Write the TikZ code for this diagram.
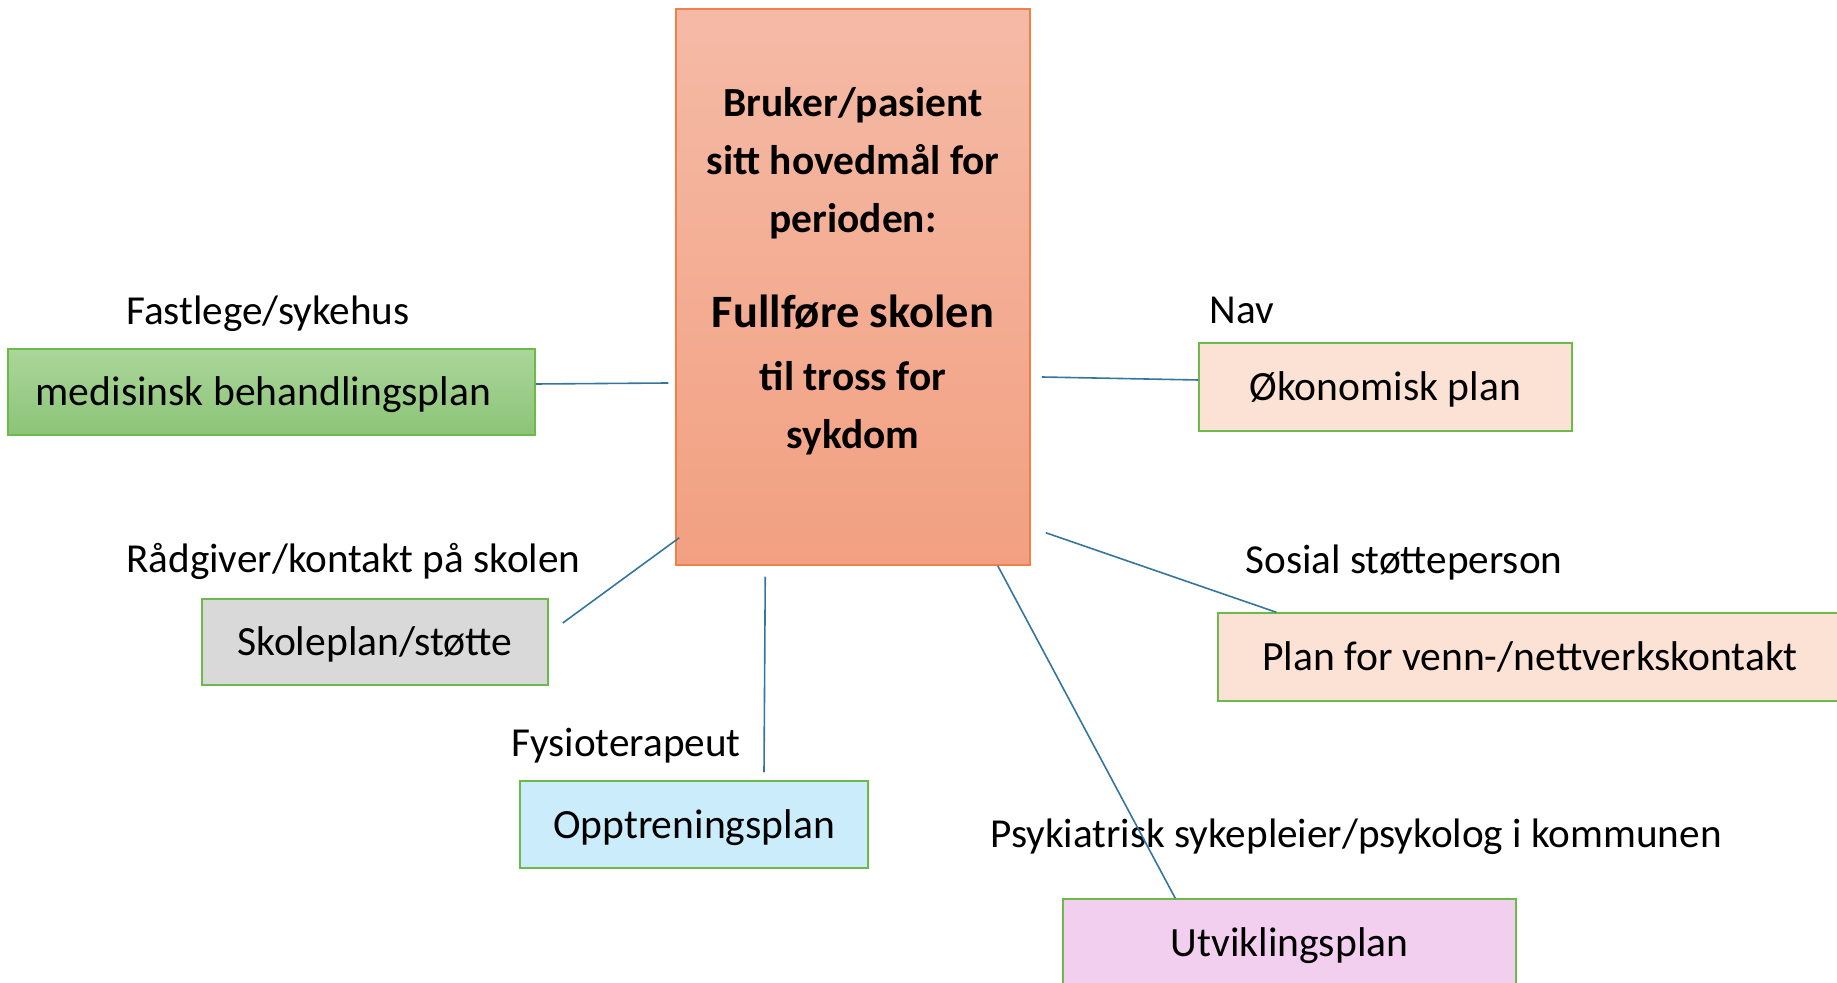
\documentclass[tikz,border=0pt]{standalone}
\usepackage{fontspec}
\setmainfont{Carlito}
\usetikzlibrary{calc}
\definecolor{maintop}{RGB}{245,186,166}
\definecolor{mainbot}{RGB}{242,160,129}
\definecolor{mainedge}{RGB}{240,128,72}
\definecolor{medtop}{RGB}{170,214,154}
\definecolor{medbot}{RGB}{140,196,120}
\definecolor{boxgreen}{RGB}{108,186,74}
\definecolor{okofill}{RGB}{251,226,213}
\definecolor{skolefill}{RGB}{217,217,217}
\definecolor{opptfill}{RGB}{202,236,251}
\definecolor{utvfill}{RGB}{242,206,239}
\definecolor{connblue}{RGB}{52,118,158}
\begin{document}
\begin{tikzpicture}[x=0.5pt,y=-0.5pt]
\tikzset{
  plan/.style={draw=boxgreen,line width=0.75pt,inner sep=0pt,text height=18pt,text depth=4.4pt,font=\fontsize{20.8}{25}\selectfont},
  lbl/.style={anchor=west,inner sep=0pt,font=\fontsize{20.6}{25}\selectfont},
  conn/.style={draw=connblue,line width=0.8pt},
}
\useasboundingbox (0,0) rectangle (1837,983);
\clip (0,0) rectangle (1837,983);

% central box
\node[draw=mainedge,line width=0.75pt,top color=maintop,bottom color=mainbot,
      minimum width=177pt,minimum height=278pt,inner sep=0pt] (main) at (853,287) {};
\node[align=center,inner sep=0pt,font=\fontsize{20.7}{29}\selectfont\bfseries] (maintext) at (853,271)
  {Bruker/pasient\\ sitt hovedmål for\\ perioden:\\[18.5pt]
   {\fontsize{23.2}{29}\selectfont Fullføre skolen}\\[2.5pt]
   til tross for\\ sykdom};

% plan boxes
\node[plan,top color=medtop,bottom color=medbot,minimum width=263.5pt,minimum height=43pt] (med) at (271.5,392) {\hspace*{-8pt}medisinsk behandlingsplan};
\node[plan,fill=okofill,minimum width=186.5pt,minimum height=44pt] (oko) at (1385.5,387) {Økonomisk plan};
\node[plan,fill=skolefill,minimum width=173pt,minimum height=43pt] (skole) at (375,642) {Skoleplan/støtte};
\node[plan,fill=opptfill,minimum width=174pt,minimum height=43.5pt] (oppt) at (694,824.5) {Opptreningsplan};
\node[plan,fill=okofill,minimum width=312pt,minimum height=44pt] (venn) at (1530,657) {Plan for venn-/nettverkskontakt};
\node[plan,fill=utvfill,minimum width=226.5pt,minimum height=44pt] (utv) at (1289.5,943) {Utviklingsplan};

% labels
\node[lbl] (l1) at (126,313.5) {Fastlege/sykehus};
\node[lbl] (l2) at (1209,310) {Nav};
\node[lbl] (l3) at (126,561.5) {Rådgiver/kontakt på skolen};
\node[lbl] (l4) at (511,745.5) {Fysioterapeut};
\node[lbl] (l5) at (1245,562.5) {Sosial støtteperson};
\node[lbl] (l6) at (990,836.5) {Psykiatrisk sykepleier/psykolog i kommunen};

% connectors
\draw[conn] ([yshift=4pt]med.east) -- ([xshift=-3.5pt,yshift=-48pt]main.west);
\draw[conn] ([xshift=5.5pt,yshift=-45pt]main.east) -- ([yshift=3.5pt]oko.west);
\draw[conn] ([xshift=7pt,yshift=9.5pt]skole.east) -- ([xshift=2pt,yshift=14pt]main.south west);
\draw[conn] ([xshift=45pt,yshift=-5.5pt]main.south west) -- ([xshift=35pt,yshift=4pt]oppt.north);
\draw[conn] ([xshift=7.5pt,yshift=16.5pt]main.south east) -- ([xshift=29.5pt]venn.north west);
\draw[conn] ([xshift=-16.5pt]main.south east) -- ([xshift=56.5pt]utv.north west);
\end{tikzpicture}
\end{document}
